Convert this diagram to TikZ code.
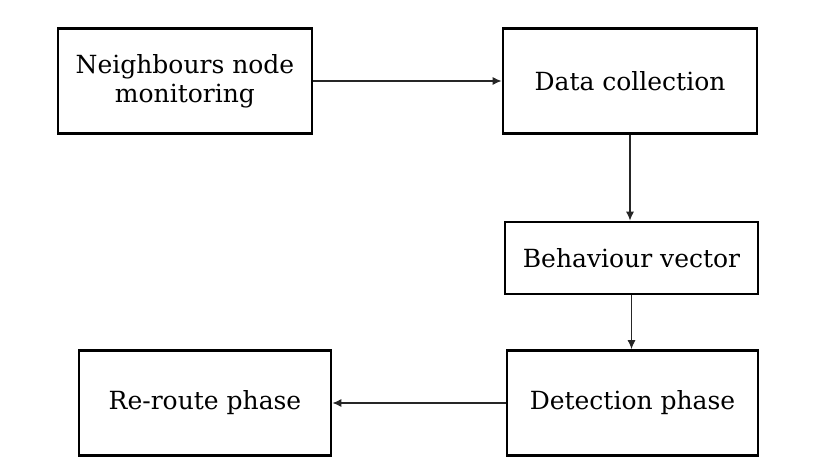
\documentclass[tikz,border=0pt]{standalone}
\usepackage{fontspec}
\setmainfont{DejaVu Serif}
\usetikzlibrary{arrows.meta}
\begin{document}
\begin{tikzpicture}[x=1pt,y=-1pt,
  box/.style={draw=black, line width=2.8pt, fill=white, rectangle, inner sep=0pt,
    align=center, text=black, font=\fontsize{25}{29}\selectfont},
  arr/.style={draw=black!85, line width=1.1pt, -{Latex[length=9pt,width=8pt]}}]
\fill[white] (0,0) rectangle (825,468);
\useasboundingbox (0,0) rectangle (825,468);
\node[box, minimum width=254pt, minimum height=105pt] (A) at (185,81) {Neighbours node\\monitoring};
\node[box, minimum width=254pt, minimum height=105pt] (B) at (630,81) {Data collection};
\node[box, minimum width=253pt, minimum height=72pt] (C) at (631.5,258) {Behaviour vector};
\node[box, minimum width=252pt, minimum height=105pt] (D) at (205,403) {Re-route phase};
\node[box, minimum width=251pt, minimum height=105pt] (E) at (632.5,403) {Detection phase};
\draw[arr] (A.east) -- (B.west);
\draw[arr] (B.south) -- (B.south |- C.north);
\draw[arr] (C.south) -- (C.south |- E.north);
\draw[arr] (E.west) -- (D.east);
\end{tikzpicture}
\end{document}
